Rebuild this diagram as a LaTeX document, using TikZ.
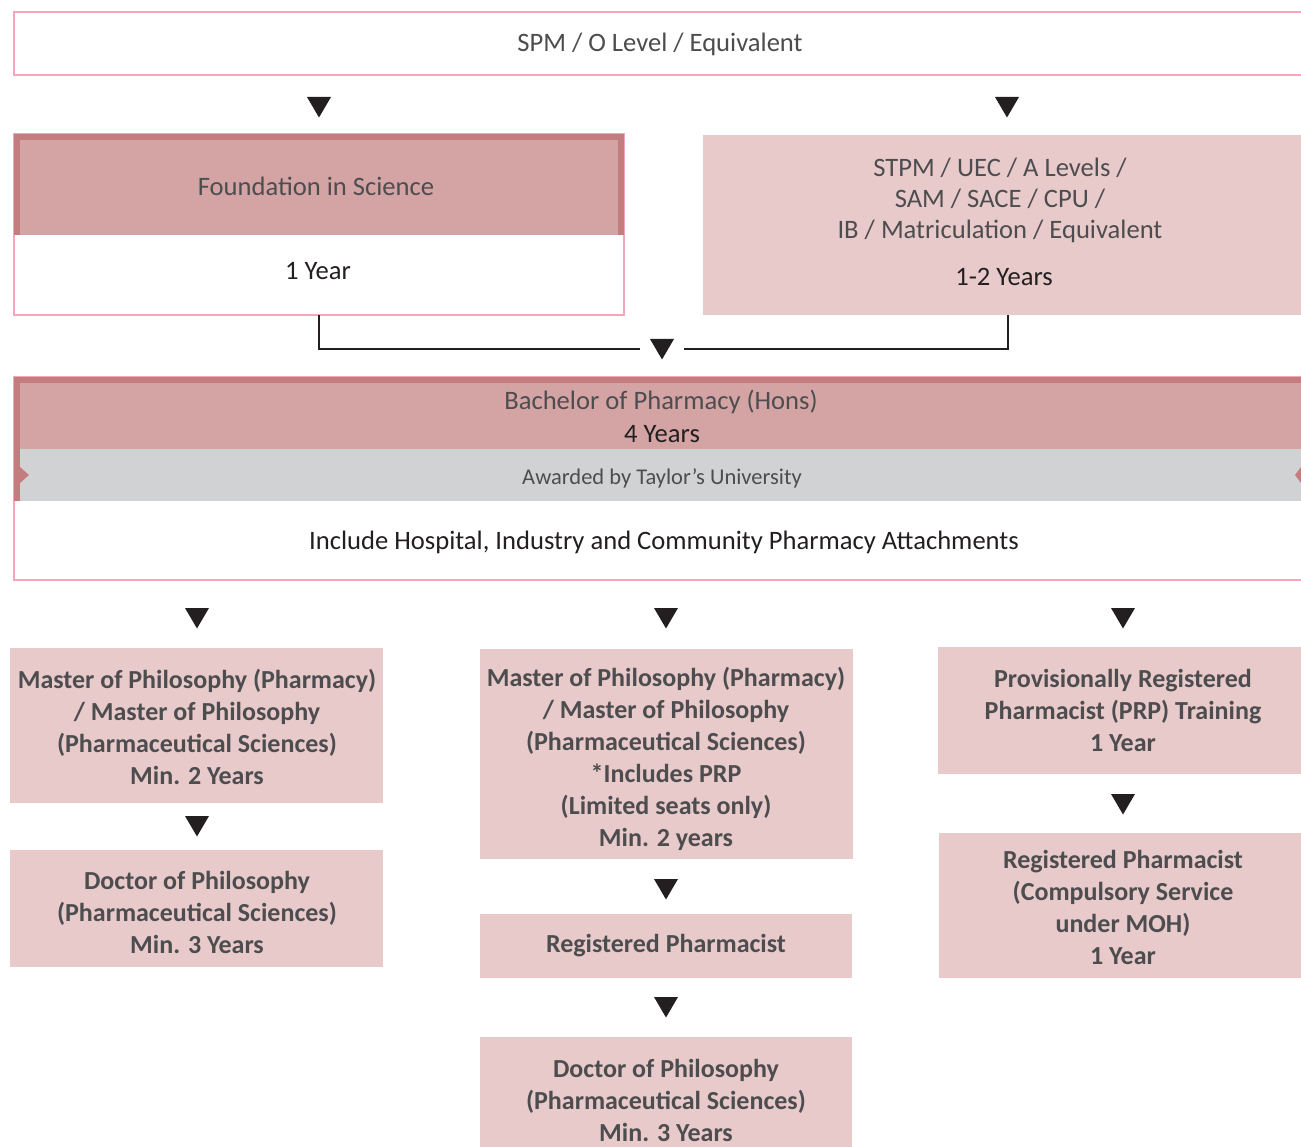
\documentclass[tikz,border=0pt]{standalone}
\usepackage{fontspec}
\setmainfont{Carlito}
\definecolor{pinkline}{HTML}{F4A6BA}
\definecolor{lightfill}{HTML}{E8CACB}
\definecolor{headfill}{HTML}{D4A4A5}
\definecolor{headedge}{HTML}{C47D7E}
\definecolor{grayband}{HTML}{D1D2D4}
\definecolor{txtgray}{HTML}{4D4D4F}
\definecolor{txtdark}{HTML}{231F20}
\definecolor{arrowc}{HTML}{231F20}
\begin{document}
\begin{tikzpicture}[x=1pt,y=-1pt,
  box/.style={anchor=north west, inner sep=0pt, outer sep=0pt},
  pinkbox/.style={box, draw=pinkline, line width=1.3pt, fill=white},
  lbox/.style={box, fill=lightfill},
  rtxt/.style={inner sep=0pt, align=center, text=txtgray, font=\fontsize{26.6}{31}\selectfont},
  dtxt/.style={rtxt, text=txtdark},
  btxt/.style={inner sep=0pt, align=center, text=txtgray, font=\bfseries\fontsize{26}{32}\selectfont},
  conn/.style={draw=arrowc, line width=2.4pt},
  downtri/.pic={\fill[arrowc] (-12,-10) -- (12,-10) -- (0,10.5) -- cycle;}
]
\useasboundingbox (0,0) rectangle (1301,1147);
\clip (0,0) rectangle (1301,1147);

% top entry
\node[pinkbox, minimum width=1300pt, minimum height=63pt] (top) at (14,12) {};
\node[rtxt] (topt) at (660,44) {SPM / O Level / Equivalent};

% arrows under top
\coordinate (a1) at (319,107); \pic at (a1) {downtri};
\coordinate (a2) at (1007,107); \pic at (a2) {downtri};

% foundation
\node[pinkbox, minimum width=610pt, minimum height=181pt] (f) at (14,134) {};
\fill[headfill] (14,134) rectangle (624,235);
\fill[headedge] (14,134) rectangle (624,140);
\fill[headedge] (14,134) rectangle (20,235);
\fill[headedge] (618,134) rectangle (624,235);
\node[rtxt] (ft) at (316,186.5) {Foundation in Science};
\node[dtxt] (fy) at (318,271.5) {1 Year};

% STPM
\node[lbox, minimum width=610pt, minimum height=180pt] (s) at (703,135) {};
\node[rtxt] (st) at (1000,200.5) {STPM / UEC / A Levels /\\SAM / SACE / CPU /\\IB / Matriculation / Equivalent};
\node[dtxt] (sy) at (1004,276.5) {1-2 Years};

% junction
\coordinate (jt) at (662,349); \pic at (jt) {downtri};
\draw[conn] (f.south) |- ([xshift=-22pt]jt);
\draw[conn] (s.south) |- ([xshift=22pt]jt);

% bachelor
\node[pinkbox, minimum width=1300pt, minimum height=203pt] (b) at (14,377) {};
\fill[headfill] (14,377) rectangle (1314,449);
\fill[grayband] (14,449) rectangle (1314,501);
\fill[headedge] (14,377) rectangle (1314,383);
\fill[headedge] (14,377) rectangle (20,501);
\fill[headedge] (20,467) -- (29,475) -- (20,483) -- cycle;
\fill[headedge] (1301,467) -- (1295,475) -- (1301,483) -- cycle;
\node[rtxt] (bt) at (661,402) {Bachelor of Pharmacy (Hons)};
\node[dtxt] (by) at (662,434) {4 Years};
\node[rtxt, font=\fontsize{22.5}{26}\selectfont] (aw) at (662,478) {Awarded by Taylor’s University};
\node[dtxt] (inc) at (664,542) {Include Hospital, Industry and Community Pharmacy Attachments};

% arrows under bachelor
\coordinate (a3) at (197,618); \pic at (a3) {downtri};
\coordinate (a4) at (666,618); \pic at (a4) {downtri};
\coordinate (a5) at (1123,618); \pic at (a5) {downtri};

% left column
\node[lbox, minimum width=373pt, minimum height=155pt] (l1) at (10,648) {};
\node[btxt] (l1t) at (197,726.5) {Master of Philosophy (Pharmacy)\\/ Master of Philosophy\\(Pharmaceutical Sciences)\\Min. 2 Years};
\coordinate (a6) at (197,826); \pic at (a6) {downtri};
\node[lbox, minimum width=373pt, minimum height=117pt] (l2) at (10,850) {};
\node[btxt] (l2t) at (197,912.5) {Doctor of Philosophy\\(Pharmaceutical Sciences)\\Min. 3 Years};

% middle column
\node[lbox, minimum width=373pt, minimum height=210pt] (m1) at (480,649) {};
\node[btxt] (m1t) at (666,759) {Master of Philosophy (Pharmacy)\\/ Master of Philosophy\\(Pharmaceutical Sciences)\\*Includes PRP\\(Limited seats only)\\Min. 2 years};
\coordinate (a7) at (666,889); \pic at (a7) {downtri};
\node[lbox, minimum width=372pt, minimum height=64pt] (m2) at (480,914) {};
\node[btxt] (m2t) at (666,946) {Registered Pharmacist};
\coordinate (a8) at (666,1007); \pic at (a8) {downtri};
\node[lbox, minimum width=372pt, minimum height=130pt] (m3) at (480,1037) {};
\node[btxt] (m3t) at (666,1100.5) {Doctor of Philosophy\\(Pharmaceutical Sciences)\\Min. 3 Years};

% right column
\node[lbox, minimum width=372pt, minimum height=127pt] (r1) at (938,647) {};
\node[btxt] (r1t) at (1123,710.5) {Provisionally Registered\\Pharmacist (PRP) Training\\1 Year};
\coordinate (a9) at (1123,804); \pic at (a9) {downtri};
\node[lbox, minimum width=372pt, minimum height=145pt] (r2) at (939,833) {};
\node[btxt] (r2t) at (1123,907.5) {Registered Pharmacist\\(Compulsory Service\\under MOH)\\1 Year};
\end{tikzpicture}
\end{document}
